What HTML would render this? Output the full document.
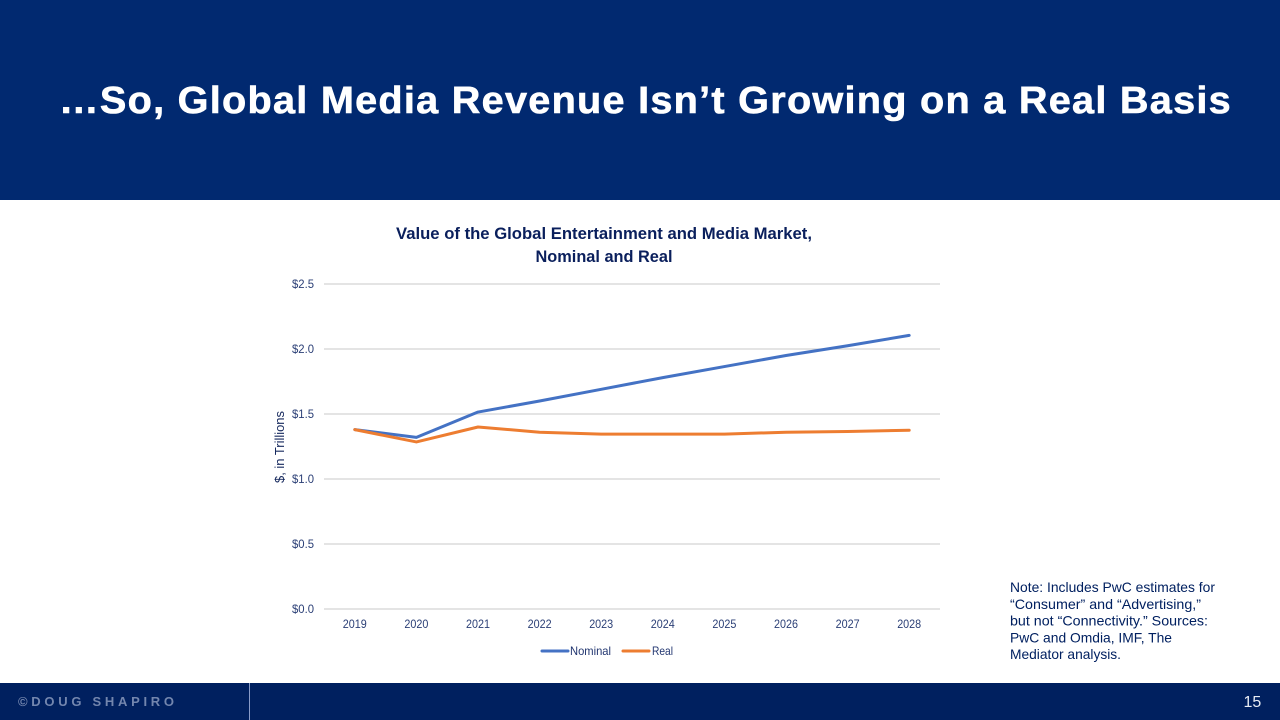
<!DOCTYPE html>
<html lang="en">
<head>
<meta charset="utf-8">
<title>Global Media Revenue</title>
<style>
html,body{margin:0;padding:0;background:#fff}
body{width:1280px;height:720px;overflow:hidden;position:relative;font-family:"Liberation Sans",Arial,sans-serif}
#header{position:absolute;left:0;top:0;width:1280px;height:200px;background:#012970}
#headline{position:absolute;left:0;top:0;width:1280px;height:200px;margin:0}
#footer{position:absolute;left:0;top:683px;width:1280px;height:37px;background:#00205f}
#chart{position:absolute;left:0;top:200px;width:1000px;height:483px}
#note{position:absolute;left:1000px;top:570px;width:260px;height:110px}
</style>
</head>
<body>
<div id="header"></div>
<svg id="headline" viewBox="0 0 1280 200">
<text x="59" y="113" font-family="Liberation Sans" font-weight="700" font-size="38" letter-spacing="1.2" fill="#fff" stroke="#fff" stroke-width="0.6" textLength="1173" lengthAdjust="spacingAndGlyphs">…So, Global Media Revenue Isn’t Growing on a Real Basis</text>
</svg>

<svg id="chart" viewBox="0 200 1000 483" font-family="Liberation Sans">
<text x="604" y="239" text-anchor="middle" font-size="17" font-weight="700" fill="#0a1f5c" textLength="416" lengthAdjust="spacingAndGlyphs">Value of the Global Entertainment and Media Market,</text>
<text x="604" y="262" text-anchor="middle" font-size="17" font-weight="700" fill="#0a1f5c" textLength="137" lengthAdjust="spacingAndGlyphs">Nominal and Real</text>
<text transform="translate(284,447) rotate(-90)" text-anchor="middle" font-size="12.5" fill="#14275c" textLength="72" lengthAdjust="spacingAndGlyphs">$, in Trillions</text>
<g id="grid"></g>
<g id="yticks"></g>
<g id="xticks"></g>
<g id="series"></g>
<g>
<line x1="542" y1="651" x2="568" y2="651" stroke="#4472c4" stroke-width="3" stroke-linecap="round"></line>
<text x="570" y="655" font-size="12" fill="#223670" textLength="41" lengthAdjust="spacingAndGlyphs">Nominal</text>
<line x1="623" y1="651" x2="649" y2="651" stroke="#ed7d31" stroke-width="3" stroke-linecap="round"></line>
<text x="652" y="655" font-size="12" fill="#223670" textLength="21" lengthAdjust="spacingAndGlyphs">Real</text>
</g>
</svg>

<svg id="note" viewBox="1000 570 260 110" font-family="Liberation Sans" font-size="14" fill="#012060">
<text x="1010" y="592" textLength="205" lengthAdjust="spacingAndGlyphs">Note: Includes PwC estimates for</text>
<text x="1010" y="608.8" textLength="191" lengthAdjust="spacingAndGlyphs">“Consumer” and “Advertising,”</text>
<text x="1010" y="625.5" textLength="198" lengthAdjust="spacingAndGlyphs">but not “Connectivity.” Sources:</text>
<text x="1010" y="642.3" textLength="162" lengthAdjust="spacingAndGlyphs">PwC and Omdia, IMF, The</text>
<text x="1010" y="659" textLength="111" lengthAdjust="spacingAndGlyphs">Mediator analysis.</text>
</svg>

<div id="footer"></div>
<svg style="position:absolute;left:0;top:683px" width="1280" height="37" viewBox="0 683 1280 37">
<line x1="249.5" y1="683" x2="249.5" y2="720" stroke="#8a9cc8" stroke-width="1"></line>
<text x="18" y="706" font-family="Liberation Sans" font-weight="700" font-size="13" fill="#7386ae" textLength="156" lengthAdjust="spacing">©DOUG SHAPIRO</text>
<text x="1243.5" y="707" font-family="Liberation Sans" font-size="16" fill="#e8ecf4">15</text>
</svg>

<script>
const categories = ['2019','2020','2021','2022','2023','2024','2025','2026','2027','2028'];
const nominalValues = [1.38,1.32,1.515,1.60,1.69,1.78,1.865,1.95,2.025,2.105];
const realValues = [1.38,1.285,1.40,1.36,1.345,1.345,1.345,1.36,1.365,1.375];
const yTickValues = [0,0.5,1.0,1.5,2.0,2.5];

const NS = 'http://www.w3.org/2000/svg';
const plotLeft = 324, plotRight = 940, plotBottom = 609, plotTop = 284, yMax = 2.5;
function xScale(i){ return plotLeft + (i + 0.5) * (plotRight - plotLeft) / categories.length; }
function yScale(v){ return plotBottom - v / yMax * (plotBottom - plotTop); }

const grid = document.getElementById('grid');
const yticks = document.getElementById('yticks');
const xticks = document.getElementById('xticks');
const seriesGroup = document.getElementById('series');

yTickValues.forEach(function(v){
  const line = document.createElementNS(NS, 'line');
  
  
  line.setAttribute('x1', plotLeft);
  line.setAttribute('x2', plotRight);
  line.setAttribute('y1', yScale(v));
  line.setAttribute('y2', yScale(v));
  line.setAttribute('stroke', '#d4d4d4');
  line.setAttribute('stroke-width', '1.3');
  grid.appendChild(line);

  const label = document.createElementNS(NS, 'text');
  
  
  label.setAttribute('x', 314);
  label.setAttribute('y', yScale(v) + 4);
  label.setAttribute('text-anchor', 'end');
  label.setAttribute('font-size', '12');
  label.setAttribute('fill', '#2b3f76');
  label.setAttribute('textLength', '22');
  label.setAttribute('lengthAdjust', 'spacingAndGlyphs');
  label.textContent = '$' + v.toFixed(1);
  yticks.appendChild(label);
});

categories.forEach(function(c, i){
  const label = document.createElementNS(NS, 'text');
  
  
  label.setAttribute('x', xScale(i));
  label.setAttribute('y', 628);
  label.setAttribute('text-anchor', 'middle');
  label.setAttribute('font-size', '12');
  label.setAttribute('fill', '#2b3f76');
  label.setAttribute('textLength', '24');
  label.setAttribute('lengthAdjust', 'spacingAndGlyphs');
  label.textContent = c;
  xticks.appendChild(label);
});

function drawSeries(values, color, name){
  const path = document.createElementNS(NS, 'polyline');
  
  
  path.setAttribute('points', values.map(function(v, i){ return xScale(i) + ',' + yScale(v); }).join(' '));
  path.setAttribute('fill', 'none');
  path.setAttribute('stroke', color);
  path.setAttribute('stroke-width', '3');
  path.setAttribute('stroke-linecap', 'round');
  path.setAttribute('stroke-linejoin', 'round');
  seriesGroup.appendChild(path);
}
drawSeries(nominalValues, '#4472c4', 'line-nominal');
drawSeries(realValues, '#ed7d31', 'line-real');
</script>
</body>
</html>
